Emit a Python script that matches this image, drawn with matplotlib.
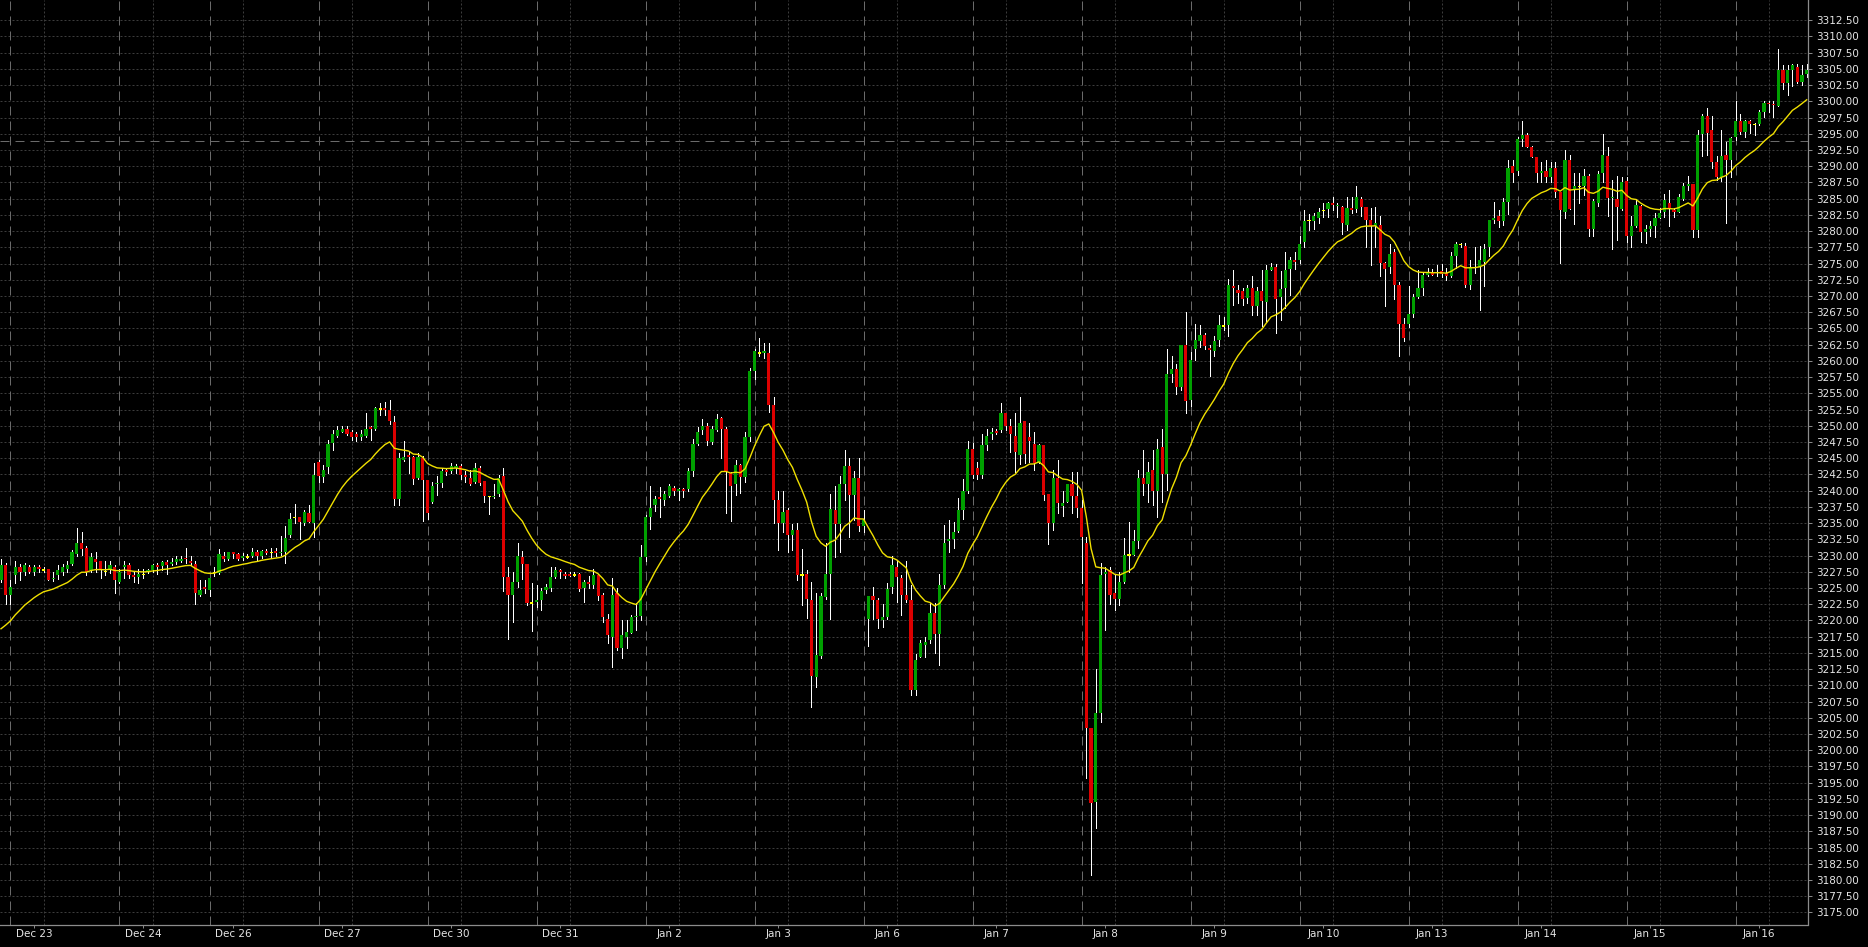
import numpy as np
import pandas as pd
import matplotlib
matplotlib.use("Agg")
import matplotlib.pyplot as plt

# =========================
# hourly candles, last two bars of Dec 20 .. Jan 16
# =========================
opens = [
    3226.2, 3228.5, 3223.9, 3227.0, 3228.2, 3227.5, 3228.2, 3227.5, 3228.2, 3227.8,
    3227.9, 3226.4, 3227.0, 3227.5, 3227.9, 3228.7, 3230.2, 3231.9, 3231.1, 3227.8,
    3229.4, 3229.2, 3227.6, 3227.9, 3228.2, 3226.0, 3228.3, 3228.5, 3227.0, 3226.7,
    3227.1, 3227.5, 3227.8, 3228.5, 3228.4, 3229.0, 3228.7, 3229.0, 3229.2, 3229.7,
    3229.2, 3228.7, 3223.9, 3225.1, 3224.7, 3227.4, 3227.3, 3230.0, 3229.5, 3230.5,
    3230.3, 3229.7, 3229.8, 3230.0, 3230.6, 3230.0, 3230.7, 3230.5, 3230.7, 3230.4,
    3230.6, 3233.1, 3235.9, 3236.0, 3235.1, 3236.5, 3235.1, 3244.5, 3242.1, 3243.6,
    3247.3, 3248.5, 3249.1, 3249.5, 3249.1, 3248.7, 3248.3, 3248.5, 3249.8, 3249.5,
    3252.6, 3252.7, 3252.4, 3250.6, 3238.7, 3244.8, 3245.5, 3245.2, 3241.9, 3245.0,
    3241.6, 3238.3, 3241.0, 3241.2, 3243.2, 3243.1, 3243.5, 3243.8, 3242.4, 3241.9,
    3241.4, 3243.5, 3241.5, 3239.1, 3239.0, 3239.5, 3242.3, 3226.7, 3223.9, 3225.9,
    3229.8, 3228.7, 3222.7, 3222.8, 3223.2, 3224.7, 3225.0, 3226.7, 3227.8, 3227.2,
    3227.2, 3227.0, 3227.2, 3225.0, 3225.9, 3225.5, 3227.0, 3223.9, 3220.2, 3217.5,
    3224.2, 3215.8, 3217.5, 3218.0, 3220.5, 3220.7, 3229.8, 3236.0, 3237.8, 3239.0,
    3238.6, 3239.2, 3240.4, 3240.0, 3240.3, 3240.3, 3243.1, 3247.2, 3249.3, 3250.0,
    3247.5, 3249.3, 3251.2, 3249.5, 3242.7, 3241.0, 3244.0, 3242.1, 3248.3, 3258.5,
    3261.2, 3261.2, 3261.2, 3253.2, 3238.6, 3235.1, 3237.0, 3233.2, 3234.0, 3227.0,
    3227.2, 3223.2, 3211.3, 3214.5, 3223.6, 3227.2, 3237.1, 3234.9, 3241.1, 3243.8,
    3239.3, 3241.9, 3234.5, 3220.3, 3223.8, 3223.1, 3220.1, 3220.6, 3225.2, 3228.2,
    3226.5, 3223.9, 3223.1, 3209.3, 3214.3, 3216.2, 3217.0, 3221.1, 3217.9, 3225.5,
    3232.3, 3232.5, 3233.8, 3237.1, 3239.9, 3246.4, 3243.5, 3242.4, 3247.0, 3248.8,
    3249.2, 3249.3, 3251.9, 3250.0, 3248.4, 3245.5, 3250.8, 3248.2, 3247.2, 3244.3,
    3247.0, 3239.5, 3235.1, 3241.9, 3237.6, 3238.3, 3241.0, 3239.2, 3237.3, 3231.9,
    3203.4, 3192.1, 3205.7, 3227.1, 3227.8, 3224.2, 3223.3, 3226.0, 3230.1, 3230.1,
    3232.3, 3241.9, 3241.1, 3243.2, 3239.9, 3246.7, 3242.6, 3258.0, 3258.7, 3256.0,
    3262.5, 3254.0, 3261.9, 3263.1, 3264.0, 3262.0, 3261.6, 3263.2, 3265.4, 3265.5,
    3271.5, 3271.0, 3270.8, 3269.7, 3271.3, 3268.5, 3270.8, 3269.1, 3274.0, 3274.4,
    3269.8, 3271.3, 3274.1, 3275.6, 3275.6, 3278.4, 3281.6, 3281.6, 3282.1, 3283.2,
    3283.4, 3284.4, 3283.9, 3283.7, 3280.9, 3283.5, 3283.4, 3284.9, 3283.7, 3281.7,
    3280.8, 3281.0, 3275.1, 3274.4, 3276.8, 3271.7, 3265.7, 3265.7, 3267.2, 3269.8,
    3271.2, 3273.2, 3273.6, 3273.5, 3273.9, 3273.6, 3273.1, 3276.1, 3277.9, 3277.7,
    3271.7, 3274.3, 3274.5, 3275.3, 3277.6, 3281.7, 3282.3, 3281.6, 3284.5, 3290.0,
    3289.3, 3294.2, 3294.8, 3292.9, 3291.4, 3289.0, 3289.3, 3288.4, 3289.8, 3286.1,
    3283.0, 3290.9, 3286.3, 3286.9, 3286.9, 3288.5, 3280.3, 3284.4, 3288.9, 3291.6,
    3285.1, 3284.9, 3283.4, 3287.7, 3279.2, 3280.8, 3283.8, 3279.8, 3280.4, 3280.8,
    3282.1, 3283.0, 3284.4, 3283.3, 3283.0, 3284.9, 3286.9, 3287.3, 3280.1, 3295.0,
    3297.8, 3295.6, 3290.6, 3288.4, 3291.7, 3290.9, 3294.5, 3297.0, 3295.3, 3296.9,
    3296.4, 3296.5, 3298.4, 3299.8, 3299.6, 3299.3, 3304.8, 3302.9, 3304.8, 3305.3,
    3303.0, 3304.2,
]

highs = [
    3229.4, 3228.8, 3226.2, 3229.1, 3228.7, 3228.8, 3228.5, 3228.5, 3228.5, 3228.3,
    3227.9, 3227.5, 3228.5, 3228.7, 3229.1, 3230.9, 3234.2, 3233.7, 3231.5, 3230.4,
    3230.6, 3229.2, 3229.1, 3229.1, 3228.5, 3228.0, 3229.2, 3228.8, 3227.5, 3228.0,
    3227.9, 3228.0, 3228.7, 3228.8, 3229.2, 3229.3, 3229.7, 3229.9, 3229.9, 3231.1,
    3229.9, 3229.1, 3226.2, 3226.2, 3226.6, 3228.2, 3231.0, 3230.6, 3230.6, 3230.6,
    3230.4, 3230.4, 3230.2, 3231.1, 3230.8, 3230.9, 3231.0, 3231.1, 3231.1, 3233.0,
    3234.5, 3236.6, 3237.9, 3236.0, 3237.1, 3237.8, 3244.2, 3244.7, 3244.0, 3247.8,
    3249.4, 3249.9, 3250.0, 3249.9, 3249.4, 3249.1, 3249.4, 3252.0, 3249.9, 3252.9,
    3253.5, 3253.6, 3254.0, 3251.5, 3245.8, 3247.6, 3246.0, 3245.3, 3245.8, 3245.3,
    3241.6, 3241.4, 3242.3, 3243.5, 3243.5, 3244.2, 3244.1, 3244.1, 3243.1, 3243.2,
    3244.2, 3243.8, 3241.5, 3239.1, 3241.0, 3242.4, 3243.5, 3228.3, 3227.5, 3231.9,
    3230.7, 3228.7, 3225.7, 3225.5, 3225.0, 3225.6, 3228.3, 3228.3, 3228.0, 3227.4,
    3227.5, 3227.4, 3227.3, 3226.2, 3226.8, 3227.9, 3227.2, 3224.2, 3221.0, 3226.6,
    3225.0, 3220.1, 3220.1, 3220.9, 3222.7, 3231.6, 3236.3, 3240.7, 3239.2, 3240.5,
    3239.9, 3241.0, 3240.7, 3240.4, 3240.4, 3243.5, 3248.0, 3249.8, 3251.0, 3250.4,
    3250.0, 3251.8, 3251.4, 3249.8, 3242.9, 3244.7, 3244.1, 3249.0, 3258.9, 3261.9,
    3263.5, 3262.7, 3262.7, 3254.4, 3239.9, 3240.0, 3237.3, 3234.9, 3235.1, 3231.0,
    3227.8, 3225.9, 3224.2, 3224.2, 3231.9, 3239.5, 3240.7, 3242.2, 3246.3, 3245.1,
    3243.1, 3245.1, 3237.1, 3223.8, 3225.1, 3223.4, 3222.5, 3225.8, 3229.9, 3229.1,
    3227.0, 3229.1, 3225.5, 3214.9, 3217.0, 3217.5, 3222.7, 3222.7, 3227.2, 3234.7,
    3235.5, 3235.2, 3238.8, 3241.8, 3247.6, 3247.3, 3244.5, 3248.8, 3249.5, 3249.6,
    3249.5, 3253.5, 3251.9, 3251.0, 3251.9, 3254.4, 3250.8, 3250.4, 3249.1, 3247.2,
    3247.0, 3239.5, 3243.2, 3244.7, 3239.9, 3241.1, 3242.9, 3242.9, 3238.6, 3232.9,
    3203.4, 3212.6, 3228.8, 3228.3, 3228.3, 3227.0, 3227.5, 3232.7, 3235.2, 3233.9,
    3243.2, 3246.3, 3244.5, 3246.3, 3247.9, 3249.5, 3261.9, 3260.8, 3259.6, 3262.5,
    3267.6, 3261.4, 3265.7, 3265.5, 3264.3, 3262.5, 3263.8, 3267.1, 3266.8, 3272.7,
    3274.0, 3271.7, 3271.2, 3271.7, 3273.1, 3271.4, 3274.0, 3274.8, 3275.1, 3274.9,
    3273.8, 3276.8, 3276.0, 3276.8, 3279.3, 3283.3, 3282.7, 3282.8, 3283.5, 3284.4,
    3284.5, 3285.2, 3284.4, 3283.9, 3285.2, 3285.2, 3287.0, 3285.2, 3283.7, 3283.5,
    3283.7, 3282.3, 3275.3, 3278.0, 3277.2, 3272.2, 3266.6, 3271.5, 3270.3, 3274.0,
    3273.6, 3274.3, 3274.1, 3274.8, 3275.0, 3274.3, 3276.8, 3278.4, 3278.2, 3278.1,
    3275.6, 3277.6, 3277.7, 3278.0, 3281.7, 3284.5, 3283.3, 3285.1, 3291.0, 3291.0,
    3294.5, 3296.9, 3295.2, 3293.1, 3291.5, 3290.7, 3290.9, 3290.7, 3290.6, 3286.1,
    3292.5, 3291.7, 3288.9, 3289.0, 3289.5, 3288.8, 3284.9, 3289.2, 3295.0, 3293.0,
    3287.9, 3288.5, 3288.4, 3288.4, 3282.3, 3284.9, 3284.0, 3281.0, 3281.5, 3282.8,
    3283.5, 3285.7, 3286.4, 3283.5, 3285.7, 3287.4, 3288.5, 3287.3, 3295.6, 3298.1,
    3298.9, 3297.8, 3291.6, 3295.6, 3293.8, 3294.5, 3300.1, 3298.1, 3297.2, 3297.2,
    3296.6, 3298.6, 3300.1, 3300.1, 3300.0, 3308.0, 3305.6, 3305.6, 3305.8, 3305.8,
    3305.6, 3305.8,
]

lows = [
    3226.0, 3222.5, 3222.5, 3225.7, 3226.3, 3227.0, 3227.3, 3227.0, 3227.5, 3227.5,
    3226.2, 3226.1, 3226.4, 3227.0, 3227.5, 3228.5, 3229.9, 3230.1, 3227.0, 3227.5,
    3227.5, 3226.5, 3227.0, 3227.3, 3224.2, 3225.7, 3226.6, 3226.6, 3226.0, 3225.8,
    3226.6, 3227.3, 3227.5, 3227.2, 3227.8, 3227.2, 3228.5, 3228.7, 3229.0, 3228.8,
    3228.5, 3222.5, 3223.7, 3224.2, 3223.7, 3226.8, 3227.2, 3229.1, 3229.3, 3229.6,
    3229.3, 3229.3, 3229.6, 3229.8, 3229.1, 3229.7, 3230.3, 3229.6, 3229.9, 3230.1,
    3228.9, 3232.9, 3235.0, 3232.5, 3234.7, 3235.2, 3232.9, 3241.4, 3241.4, 3242.7,
    3246.3, 3248.3, 3249.0, 3248.6, 3247.8, 3247.7, 3247.8, 3248.3, 3247.8, 3249.4,
    3251.7, 3251.7, 3250.3, 3237.8, 3237.8, 3244.6, 3242.7, 3241.1, 3241.8, 3235.4,
    3235.6, 3238.1, 3239.3, 3240.6, 3242.4, 3242.8, 3242.8, 3241.8, 3241.4, 3240.9,
    3241.2, 3240.9, 3238.2, 3236.4, 3238.8, 3239.2, 3224.6, 3217.2, 3219.8, 3225.2,
    3226.4, 3222.4, 3218.4, 3222.1, 3221.6, 3224.2, 3224.6, 3226.5, 3226.5, 3226.6,
    3226.8, 3226.8, 3224.6, 3222.9, 3225.0, 3225.0, 3223.2, 3219.8, 3216.6, 3212.9,
    3215.5, 3214.2, 3215.7, 3218.0, 3218.5, 3220.1, 3229.1, 3234.1, 3236.9, 3235.9,
    3237.8, 3239.1, 3239.3, 3238.5, 3239.1, 3239.9, 3242.2, 3247.1, 3248.7, 3247.1,
    3247.2, 3249.2, 3245.0, 3236.5, 3235.4, 3239.4, 3239.7, 3241.4, 3247.7, 3257.2,
    3260.7, 3260.4, 3252.2, 3235.0, 3230.9, 3233.7, 3230.5, 3230.9, 3226.2, 3222.4,
    3220.4, 3206.6, 3209.7, 3214.2, 3223.3, 3220.2, 3229.8, 3230.6, 3238.6, 3232.9,
    3235.5, 3233.8, 3233.7, 3216.1, 3220.3, 3218.8, 3219.0, 3220.3, 3224.2, 3222.9,
    3220.8, 3222.9, 3208.5, 3208.5, 3214.3, 3214.4, 3216.6, 3215.0, 3213.1, 3225.0,
    3230.5, 3231.1, 3233.7, 3235.7, 3239.7, 3241.9, 3241.8, 3241.9, 3246.2, 3247.9,
    3248.8, 3249.1, 3249.3, 3245.9, 3242.9, 3244.1, 3244.2, 3244.5, 3243.2, 3244.2,
    3238.6, 3231.8, 3233.9, 3236.6, 3236.1, 3238.3, 3236.5, 3236.0, 3225.8, 3195.7,
    3180.8, 3188.0, 3204.4, 3218.5, 3222.6, 3221.6, 3222.4, 3225.7, 3227.4, 3230.1,
    3231.1, 3239.3, 3238.3, 3237.8, 3235.9, 3238.2, 3240.1, 3256.7, 3254.9, 3255.5,
    3251.9, 3253.0, 3260.1, 3262.2, 3261.9, 3257.7, 3260.7, 3262.3, 3264.7, 3263.8,
    3268.6, 3269.0, 3268.6, 3268.9, 3267.1, 3267.1, 3265.4, 3266.0, 3274.0, 3264.3,
    3266.3, 3268.1, 3270.2, 3274.1, 3275.1, 3277.5, 3280.2, 3280.3, 3281.3, 3282.2,
    3282.2, 3283.2, 3282.2, 3279.6, 3280.2, 3282.8, 3282.9, 3282.3, 3277.5, 3274.8,
    3277.6, 3273.1, 3268.4, 3273.6, 3269.5, 3260.7, 3263.1, 3265.3, 3266.7, 3269.7,
    3270.2, 3273.1, 3273.2, 3273.1, 3273.0, 3272.4, 3273.0, 3274.3, 3277.6, 3271.4,
    3271.1, 3273.5, 3267.9, 3271.5, 3276.2, 3281.3, 3280.7, 3281.0, 3282.6, 3287.5,
    3288.7, 3293.1, 3292.9, 3291.4, 3287.5, 3287.6, 3287.6, 3287.6, 3285.3, 3275.1,
    3282.0, 3283.4, 3281.1, 3284.3, 3285.6, 3279.2, 3279.2, 3283.9, 3287.6, 3282.3,
    3277.2, 3278.7, 3283.3, 3278.4, 3277.6, 3280.7, 3278.4, 3278.2, 3279.2, 3279.1,
    3282.0, 3282.2, 3280.8, 3282.2, 3282.9, 3284.8, 3286.4, 3279.1, 3279.1, 3291.6,
    3291.7, 3289.7, 3287.9, 3287.8, 3281.2, 3288.4, 3294.1, 3295.0, 3294.5, 3295.2,
    3294.8, 3296.4, 3297.6, 3298.4, 3297.6, 3299.3, 3301.9, 3301.0, 3302.3, 3302.8,
    3302.5, 3303.7,
]

closes = [
    3228.5, 3223.9, 3225.1, 3228.2, 3227.5, 3228.5, 3227.5, 3228.2, 3227.9, 3227.8,
    3226.2, 3226.6, 3227.8, 3228.2, 3228.5, 3230.6, 3231.9, 3231.0, 3227.5, 3229.8,
    3229.0, 3227.8, 3227.6, 3228.5, 3226.2, 3227.5, 3228.5, 3227.0, 3226.7, 3227.2,
    3227.1, 3227.8, 3228.5, 3228.3, 3229.0, 3228.5, 3229.0, 3229.4, 3229.4, 3229.5,
    3228.8, 3224.3, 3224.7, 3224.8, 3226.6, 3227.4, 3230.3, 3229.5, 3230.5, 3230.3,
    3229.5, 3230.0, 3229.8, 3230.5, 3230.0, 3230.7, 3230.4, 3230.5, 3230.4, 3230.6,
    3232.7, 3235.7, 3235.9, 3235.2, 3236.7, 3235.2, 3242.4, 3242.3, 3243.2, 3247.2,
    3248.7, 3249.3, 3249.5, 3248.8, 3248.3, 3248.3, 3248.8, 3249.5, 3249.5, 3252.7,
    3252.6, 3252.4, 3250.8, 3238.7, 3245.0, 3245.2, 3245.2, 3241.8, 3245.2, 3241.6,
    3236.6, 3240.7, 3241.2, 3243.1, 3242.9, 3243.8, 3243.8, 3242.4, 3242.1, 3241.1,
    3243.5, 3241.2, 3239.2, 3239.1, 3239.2, 3241.9, 3226.7, 3223.9, 3225.9, 3229.9,
    3228.7, 3222.7, 3222.7, 3223.2, 3224.6, 3225.2, 3226.7, 3227.8, 3227.5, 3226.9,
    3226.9, 3227.0, 3224.8, 3225.9, 3225.6, 3227.0, 3223.8, 3220.5, 3217.8, 3223.9,
    3215.8, 3217.8, 3218.3, 3220.5, 3220.7, 3229.8, 3236.0, 3237.4, 3238.7, 3238.7,
    3239.5, 3240.7, 3240.0, 3240.2, 3240.0, 3243.0, 3247.2, 3249.1, 3250.0, 3247.6,
    3249.5, 3251.1, 3249.5, 3243.0, 3240.8, 3243.9, 3242.1, 3248.3, 3258.5, 3261.5,
    3261.2, 3261.5, 3253.2, 3238.6, 3235.1, 3236.7, 3233.1, 3234.0, 3227.0, 3227.0,
    3223.3, 3211.5, 3214.7, 3223.8, 3227.2, 3237.2, 3234.8, 3241.1, 3243.8, 3239.3,
    3241.9, 3234.5, 3235.5, 3223.8, 3223.1, 3220.3, 3220.6, 3224.9, 3228.5, 3226.7,
    3223.9, 3223.2, 3209.3, 3213.9, 3216.5, 3216.7, 3221.1, 3217.9, 3225.5, 3232.0,
    3232.5, 3233.7, 3237.1, 3239.9, 3246.4, 3242.4, 3242.4, 3247.0, 3248.4, 3249.1,
    3248.9, 3251.9, 3250.0, 3248.7, 3245.9, 3250.5, 3245.7, 3247.6, 3244.3, 3247.0,
    3239.3, 3235.1, 3241.9, 3238.1, 3238.1, 3241.0, 3239.2, 3237.3, 3232.9, 3203.4,
    3191.8, 3205.7, 3227.0, 3227.4, 3223.9, 3223.3, 3226.0, 3230.1, 3230.1, 3232.3,
    3241.9, 3241.1, 3242.9, 3240.0, 3246.4, 3242.6, 3258.0, 3258.7, 3256.0, 3262.5,
    3253.9, 3260.1, 3263.2, 3264.0, 3262.3, 3261.7, 3263.1, 3265.5, 3265.4, 3271.7,
    3271.2, 3270.5, 3269.5, 3271.3, 3268.5, 3270.8, 3269.3, 3274.0, 3274.4, 3269.5,
    3271.1, 3274.0, 3275.6, 3275.3, 3278.0, 3281.6, 3281.6, 3282.3, 3283.0, 3283.2,
    3284.3, 3284.0, 3284.0, 3281.3, 3283.5, 3283.3, 3285.2, 3283.7, 3281.7, 3280.8,
    3281.2, 3275.1, 3274.1, 3276.5, 3271.7, 3265.7, 3263.5, 3267.2, 3269.8, 3271.2,
    3273.2, 3273.6, 3273.2, 3273.7, 3273.4, 3273.1, 3276.1, 3278.0, 3277.9, 3271.7,
    3274.4, 3274.5, 3275.6, 3277.2, 3281.7, 3282.0, 3281.6, 3284.5, 3289.8, 3289.0,
    3294.2, 3294.8, 3292.9, 3291.4, 3289.0, 3289.3, 3288.4, 3289.8, 3286.1, 3283.2,
    3291.0, 3283.4, 3287.0, 3286.9, 3288.5, 3280.3, 3284.6, 3288.8, 3291.7, 3285.1,
    3285.3, 3283.7, 3287.6, 3279.2, 3280.8, 3284.0, 3279.8, 3280.4, 3280.8, 3282.1,
    3282.8, 3284.8, 3283.4, 3283.0, 3285.2, 3286.9, 3287.3, 3280.1, 3294.8, 3297.8,
    3295.1, 3290.6, 3288.4, 3291.6, 3290.9, 3294.3, 3297.0, 3295.3, 3297.0, 3296.5,
    3296.4, 3298.4, 3299.8, 3299.6, 3299.4, 3304.8, 3302.9, 3304.8, 3305.6, 3303.0,
    3304.1, 3304.9,
]

# first bar of each trading day (period separators) and the day labels
day_starts = [2, 25, 44, 67, 90, 113, 136, 159, 182, 205, 228, 251, 274, 297, 320, 343, 366]
day_labels = ["Dec 23", "Dec 24", "Dec 26", "Dec 27", "Dec 30", "Dec 31", "Jan 2",
              "Jan 3", "Jan 6", "Jan 7", "Jan 8", "Jan 9", "Jan 10", "Jan 13",
              "Jan 14", "Jan 15", "Jan 16"]

MA_SPAN = 17          # yellow moving average (exponential)
MA_SEED = 3217.5      # value of the average at the left edge
LEVEL_LINE = 3293.9   # grey dashed horizontal line
PRICE_MIN, PRICE_MAX = 3173.15, 3315.62

# =========================
# figure
# =========================
W, H = 1868, 947
fig = plt.figure(figsize=(W / 100, H / 100), dpi=100, facecolor="black")
ax = fig.add_axes([0, 22.5 / H, 1808 / W, 1 - 22.5 / H])
ax.set_facecolor("black")

o = np.array(opens)
h = np.array(highs)
l = np.array(lows)
c = np.array(closes)
n = len(c)
x = np.arange(n)

ax.set_xlim(-0.21, n - 1 + 0.28)
ax.set_ylim(PRICE_MIN, PRICE_MAX)

# grid
price_ticks = np.arange(3175.0, 3312.5 + 0.01, 2.5)
for lvl in price_ticks:
    ax.axhline(lvl, color="#3c3c3c", lw=0.72, ls=(0, (2, 2)), zorder=0)
for d in day_starts:
    ax.axvline(d + 7, color="#3c3c3c", lw=0.72, ls=(0, (2, 2)), zorder=0)
    ax.axvline(d, color="#6a6a6a", lw=0.72, ls=(0, (9, 6)), zorder=0)
ax.axhline(LEVEL_LINE, color="#6a6a6a", lw=0.72, ls=(0, (9, 6)), zorder=0)

# candles
ax.vlines(x, l, h, color="white", lw=0.72, zorder=2, antialiased=False)
flat = c == o
body_h = np.maximum(np.abs(c - o), 0.2)
body_lo = np.where(flat, o - 0.1, np.minimum(o, c))
colors = np.where(c > o, "#00a000", np.where(c < o, "#dd0000", "#ffff00"))
ax.bar(x, body_h, bottom=body_lo, width=0.68, color=colors, lw=0, zorder=3,
       antialiased=False)

# moving average
ma = pd.Series([MA_SEED] + closes).ewm(span=MA_SPAN, adjust=False).mean().iloc[1:]
ax.plot(x, ma.to_numpy(), color="#f0e000", lw=1.0, zorder=4)

# axes cosmetics
for side in ["top", "left"]:
    ax.spines[side].set_visible(False)
for side in ["right", "bottom"]:
    ax.spines[side].set_color("#8c8c8c")
    ax.spines[side].set_linewidth(0.9)

ax.yaxis.tick_right()
ax.set_yticks(price_ticks)
ax.set_yticklabels([f"{v:.2f}" for v in price_ticks])
ax.set_xticks([d + 5 for d in day_starts])
ax.set_xticklabels(day_labels)
ax.tick_params(axis="y", colors="#8c8c8c", labelcolor="#e6e6e6", length=3,
               width=0.7, pad=3, labelsize=7.5)
ax.tick_params(axis="x", colors="#8c8c8c", labelcolor="#e6e6e6", length=2.5,
               width=0.7, pad=1, labelsize=7.5)

fig.savefig("out.png", dpi=100, facecolor="black")
